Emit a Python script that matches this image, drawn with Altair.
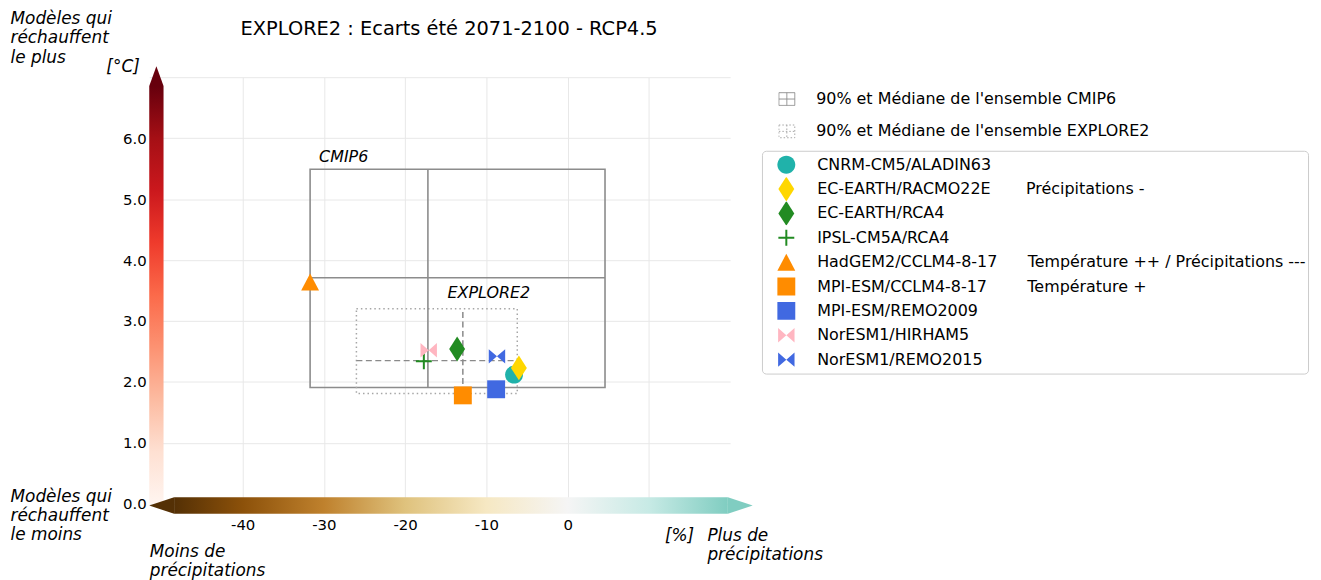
import altair as alt
import pandas as pd

# ---------------- data ----------------
models = ["CNRM-CM5/ALADIN63", "EC-EARTH/RACMO22E", "EC-EARTH/RCA4", "IPSL-CM5A/RCA4",
          "HadGEM2/CCLM4-8-17", "MPI-ESM/CCLM4-8-17", "MPI-ESM/REMO2009",
          "NorESM1/HIRHAM5", "NorESM1/REMO2015"]
precip = [-6.6, -6.0, -13.6, -17.7, -31.7, -12.9, -8.8, -17.1, -8.7]      # [%]
temp = [2.12, 2.23, 2.54, 2.34, 3.64, 1.78, 1.88, 2.52, 2.42]            # [°C]
notes = ["", "Précipitations -", "", "", "Température ++ / Précipitations ---",
         "Température +", "", "", ""]
colors = ["#20b2aa", "#ffd700", "#228b22", "#228b22", "#ff8c00", "#ff8c00",
          "#4169e1", "#ffb6c1", "#4169e1"]

ensembles = ["CMIP6", "EXPLORE2"]
p_q05 = [-31.7, -26.0]
p_q50 = [-17.2, -12.9]
p_q95 = [4.6, -6.2]
t_q05 = [1.91, 1.81]
t_q50 = [3.71, 2.35]
t_q95 = [5.49, 3.20]

x_grid = [-40, -30, -20, -10, 0, 10]
y_grid = [0, 1, 2, 3, 4, 5, 6, 7]

title_text = "EXPLORE2 : Ecarts été 2071-2100 - RCP4.5"
ann_text = ["Modèles qui\nréchauffent\nle plus", "Modèles qui\nréchauffent\nle moins",
            "Moins de\nprécipitations", "Plus de\nprécipitations"]

# ---------------- styling / layout ----------------
FONT = "DejaVu Sans"
NB = "\u00a0"
X_DOMAIN = [-51.5, 20]
Y_DOMAIN = [0, 7]

P = {
    "circle": "M0.72,0A0.72,0.72,0,1,1,-0.72,0A0.72,0.72,0,1,1,0.72,0Z",
    "dthin": "M0,-1L0.64,0L0,1L-0.64,0Z",
    "plus": "M-0.64,-0.08L-0.08,-0.08L-0.08,-0.64L0.08,-0.64L0.08,-0.08L0.64,-0.08L0.64,0.08L0.08,0.08L0.08,0.64L-0.08,0.64L-0.08,0.08L-0.64,0.08Z",
    "tri": "M0,-0.68L0.72,0.68L-0.72,0.68Z",
    "square": "M-0.72,-0.72L0.72,-0.72L0.72,0.72L-0.72,0.72Z",
    "bowtie": "M-0.66,-0.58L0,0L-0.66,0.58Z M0.66,-0.58L0,0L0.66,0.58Z",
}
model_shapes = [P["circle"], P["dthin"], P["dthin"], P["plus"], P["tri"],
                P["square"], P["square"], P["bowtie"], P["bowtie"]]
note_pad = [0, 7, 0, 0, 6, 8, 0, 0, 0]
grid_icon = "M-1,-0.8L1,-0.8L1,0.8L-1,0.8Z M0,-0.8L0,0.8 M-1,0L1,0"

# legend label expression (model name + aligned note column)
label_expr = "datum.label"
for m, n, k in reversed(list(zip(models, notes, note_pad))):
    if n:
        label_expr = f"datum.label == '{m}' ? '{m}{NB * k}{n}' : " + label_expr

df_models = pd.DataFrame({"model": models, "precip": precip, "temp": temp})
df_ens = pd.DataFrame({"ensemble": ensembles, "p05": p_q05, "p50": p_q50, "p95": p_q95,
                       "t05": t_q05, "t50": t_q50, "t95": t_q95})

xs = alt.Scale(domain=X_DOMAIN, nice=False, zero=False)
ys = alt.Scale(domain=Y_DOMAIN, nice=False, zero=False)

x_axis = alt.Axis(values=x_grid, grid=True, gridColor="#e8e8e8", gridWidth=1, domain=False,
                  ticks=False, tickSize=0, labelFlush=False, labelOverlap=False,
                  labelExpr="datum.value > 5 ? '' : toString(datum.value)",
                  labelFont=FONT, labelFontSize=15, labelColor="black", labelPadding=14,
                  title="[%]", titleFont=FONT, titleFontSize=17, titleFontStyle="italic",
                  titleFontWeight="normal", titleColor="black", titleX=518, titleY=37,
                  titleAlign="left", titleBaseline="alphabetic", titleAngle=0)
y_axis = alt.Axis(values=y_grid, grid=True, gridColor="#e8e8e8", gridWidth=1, domain=False,
                  ticks=False, tickSize=0, labelFlush=False, labelOverlap=False,
                  labelExpr="datum.value > 6.5 ? '' : format(datum.value, '.1f')",
                  labelFont=FONT, labelFontSize=15, labelColor="black", labelPadding=3,
                  title="[°C]", titleFont=FONT, titleFontSize=17, titleFontStyle="italic",
                  titleFontWeight="normal", titleColor="black", titleX=-10, titleY=-5.3,
                  titleAlign="right", titleBaseline="alphabetic", titleAngle=0)

model_legend = alt.Legend(title=None, orient="none", legendX=616, legendY=74, padding=2,
                          strokeColor="#cccccc", fillColor="white", cornerRadius=4,
                          symbolSize=625, symbolStrokeWidth=0, symbolOpacity=1,
                          symbolOffset=10, labelOffset=18.5, clipHeight=24, rowPadding=0.5,
                          labelFont=FONT, labelFontSize=16, labelColor="black",
                          labelLimit=1000, labelExpr=label_expr)


def ens_legend(y, dash):
    return alt.Legend(title=None, orient="none", legendX=632.5, legendY=y, padding=0,
                      symbolType=grid_icon, symbolSize=256, symbolStrokeWidth=1,
                      symbolDash=dash, symbolFillColor="white", clipHeight=16,
                      labelOffset=21, labelFont=FONT, labelFontSize=16, labelColor="black",
                      labelLimit=1000,
                      labelExpr="\"90% et Médiane de l'ensemble \" + datum.label")


# ---------------- colour bars (guides, in data units) ----------------
reds = ["#fff5f0", "#fee0d2", "#fcbba1", "#fc9272", "#fb6a4a", "#ef3b2c", "#cb181d", "#a50f15", "#67000d"]
brbg = ["#543005", "#8c510a", "#bf812d", "#dfc27d", "#f6e8c3", "#f5f5f5", "#c7eae5", "#80cdc1"]
brbg_vals = [-50, -40, -30, -20, -10, 0, 10, 20]
vb = {"x": -51.5, "x2": -49.74, "y": 0.0, "y2": 6.853, "tip": 7.179}
hb = {"x": -48.44, "x2": 19.72, "y": 0.109, "y2": -0.163, "tipl": -51.5, "tipr": 22.78}

v_grad = alt.LinearGradient(gradient="linear", x1=0, y1=1, x2=0, y2=0,
                            stops=[alt.GradientStop(offset=i / (len(reds) - 1), color=c)
                                   for i, c in enumerate(reds)])
h_grad = alt.LinearGradient(gradient="linear", x1=0, y1=0, x2=1, y2=0,
                            stops=[alt.GradientStop(offset=min(1.0, max(0.0, (v - hb["x"]) / (hb["x2"] - hb["x"]))), color=c)
                                   for v, c in zip(brbg_vals, brbg)])

vcb = alt.Chart(pd.DataFrame([vb])).mark_rect(fill=v_grad, strokeWidth=0).encode(
    x=alt.X("x:Q", scale=xs, axis=x_axis), x2="x2:Q",
    y=alt.Y("y:Q", scale=ys, axis=y_axis), y2="y2:Q")
vmid = (vb["x"] + vb["x2"]) / 2
vtip = alt.Chart(pd.DataFrame({"y": [vb["y2"], vb["tip"]], "x": [vb["x"], vmid], "x2": [vb["x2"], vmid]})
                 ).mark_area(color=reds[-1], orient="horizontal", strokeWidth=0).encode(
    y="y:Q", x="x:Q", x2="x2:Q")

hcb = alt.Chart(pd.DataFrame([hb])).mark_rect(fill=h_grad, strokeWidth=0).encode(
    x="x:Q", x2="x2:Q", y="y:Q", y2="y2:Q")
hmid = (hb["y"] + hb["y2"]) / 2
htl = alt.Chart(pd.DataFrame({"x": [hb["tipl"], hb["x"]], "y": [hmid, hb["y"]], "y2": [hmid, hb["y2"]]})
                ).mark_area(color=brbg[0], orient="vertical", strokeWidth=0).encode(
    x="x:Q", y="y:Q", y2="y2:Q")
htr = alt.Chart(pd.DataFrame({"x": [hb["x2"], hb["tipr"]], "y": [hb["y"], hmid], "y2": [hb["y2"], hmid]})
                ).mark_area(color=brbg[-1], orient="vertical", strokeWidth=0).encode(
    x="x:Q", y="y:Q", y2="y2:Q")

# ---------------- ensembles (boxes + medians) ----------------
ens = alt.Chart(df_ens)
c6 = ens.transform_filter("datum.ensemble == 'CMIP6'")
e2 = ens.transform_filter("datum.ensemble == 'EXPLORE2'")

box_c6 = c6.mark_rect(filled=False, strokeWidth=1.6).encode(
    x="p05:Q", x2="p95:Q", y="t05:Q", y2="t95:Q",
    stroke=alt.Stroke("ensemble:N", scale=alt.Scale(domain=["CMIP6"], range=["#8c8c8c"]),
                      legend=ens_legend(14, [1, 0])))
box_e2 = e2.mark_rect(filled=False, strokeWidth=1.5, strokeDash=[1.5, 3]).encode(
    x="p05:Q", x2="p95:Q", y="t05:Q", y2="t95:Q",
    stroke=alt.Stroke("ensemble:N", scale=alt.Scale(domain=["EXPLORE2"], range=["#a6a6a6"]),
                      legend=ens_legend(46.5, [1.5, 2])))

c6_v = c6.mark_rule(color="#8c8c8c", strokeWidth=1.6).encode(x="p50:Q", y="t05:Q", y2="t95:Q")
c6_h = c6.mark_rule(color="#8c8c8c", strokeWidth=1.6).encode(y="t50:Q", x="p05:Q", x2="p95:Q")
e2_v = e2.mark_rule(color="#8a8a8a", strokeWidth=1.5, strokeDash=[6, 3.5]).encode(x="p50:Q", y="t05:Q", y2="t95:Q")
e2_h = e2.mark_rule(color="#8a8a8a", strokeWidth=1.5, strokeDash=[6, 3.5]).encode(y="t50:Q", x="p05:Q", x2="p95:Q")

c6_lab = c6.mark_text(font=FONT, fontSize=16, fontStyle="italic", align="left", baseline="alphabetic",
                      dx=9, dy=-6.8, color="black").encode(x="p05:Q", y="t95:Q", text="ensemble:N")
e2_lab = e2.mark_text(font=FONT, fontSize=16, fontStyle="italic", align="right", baseline="alphabetic",
                      dx=13, dy=-10.6, color="black").encode(x="p95:Q", y="t95:Q", text="ensemble:N")

# ---------------- models ----------------
pts = alt.Chart(df_models).mark_point(filled=True, size=625, opacity=1, strokeWidth=0).encode(
    x="precip:Q", y="temp:Q",
    shape=alt.Shape("model:N", scale=alt.Scale(domain=models, range=model_shapes), legend=model_legend),
    color=alt.Color("model:N", scale=alt.Scale(domain=models, range=colors), legend=model_legend))

# ---------------- annotations ----------------
df_ann = pd.DataFrame({"text": ann_text,
                       "x": [-68.58, -68.58, -51.44, 17.2],
                       "y": [8.081, 0.2447, -0.6526, -0.3916]})
ann = alt.Chart(df_ann).mark_text(font=FONT, fontSize=17, fontStyle="italic", align="left",
                                  baseline="top", lineBreak="\n", lineHeight=19.3, color="black").encode(
    x="x:Q", y="y:Q", text="text:N")
ttl = alt.Chart(pd.DataFrame({"text": [title_text], "x": [-14.59], "y": [7.696]})).mark_text(
    font=FONT, fontSize=19.5, align="center", baseline="alphabetic", color="black").encode(
    x="x:Q", y="y:Q", text="text:N")

chart = alt.layer(vcb, vtip, box_c6, box_e2, c6_v, c6_h, e2_v, e2_h, pts, hcb, htl, htr,
                  c6_lab, e2_lab, ann, ttl
                  ).resolve_scale(stroke="independent").properties(
    width=584, height=429,
    autosize=alt.AutoSizeParams(type="none"),
    padding={"left": 142, "top": 68, "right": 586, "bottom": 75},
).configure_view(stroke=None)

chart.save("out.html", embed_options={"renderer": "svg", "actions": False})
